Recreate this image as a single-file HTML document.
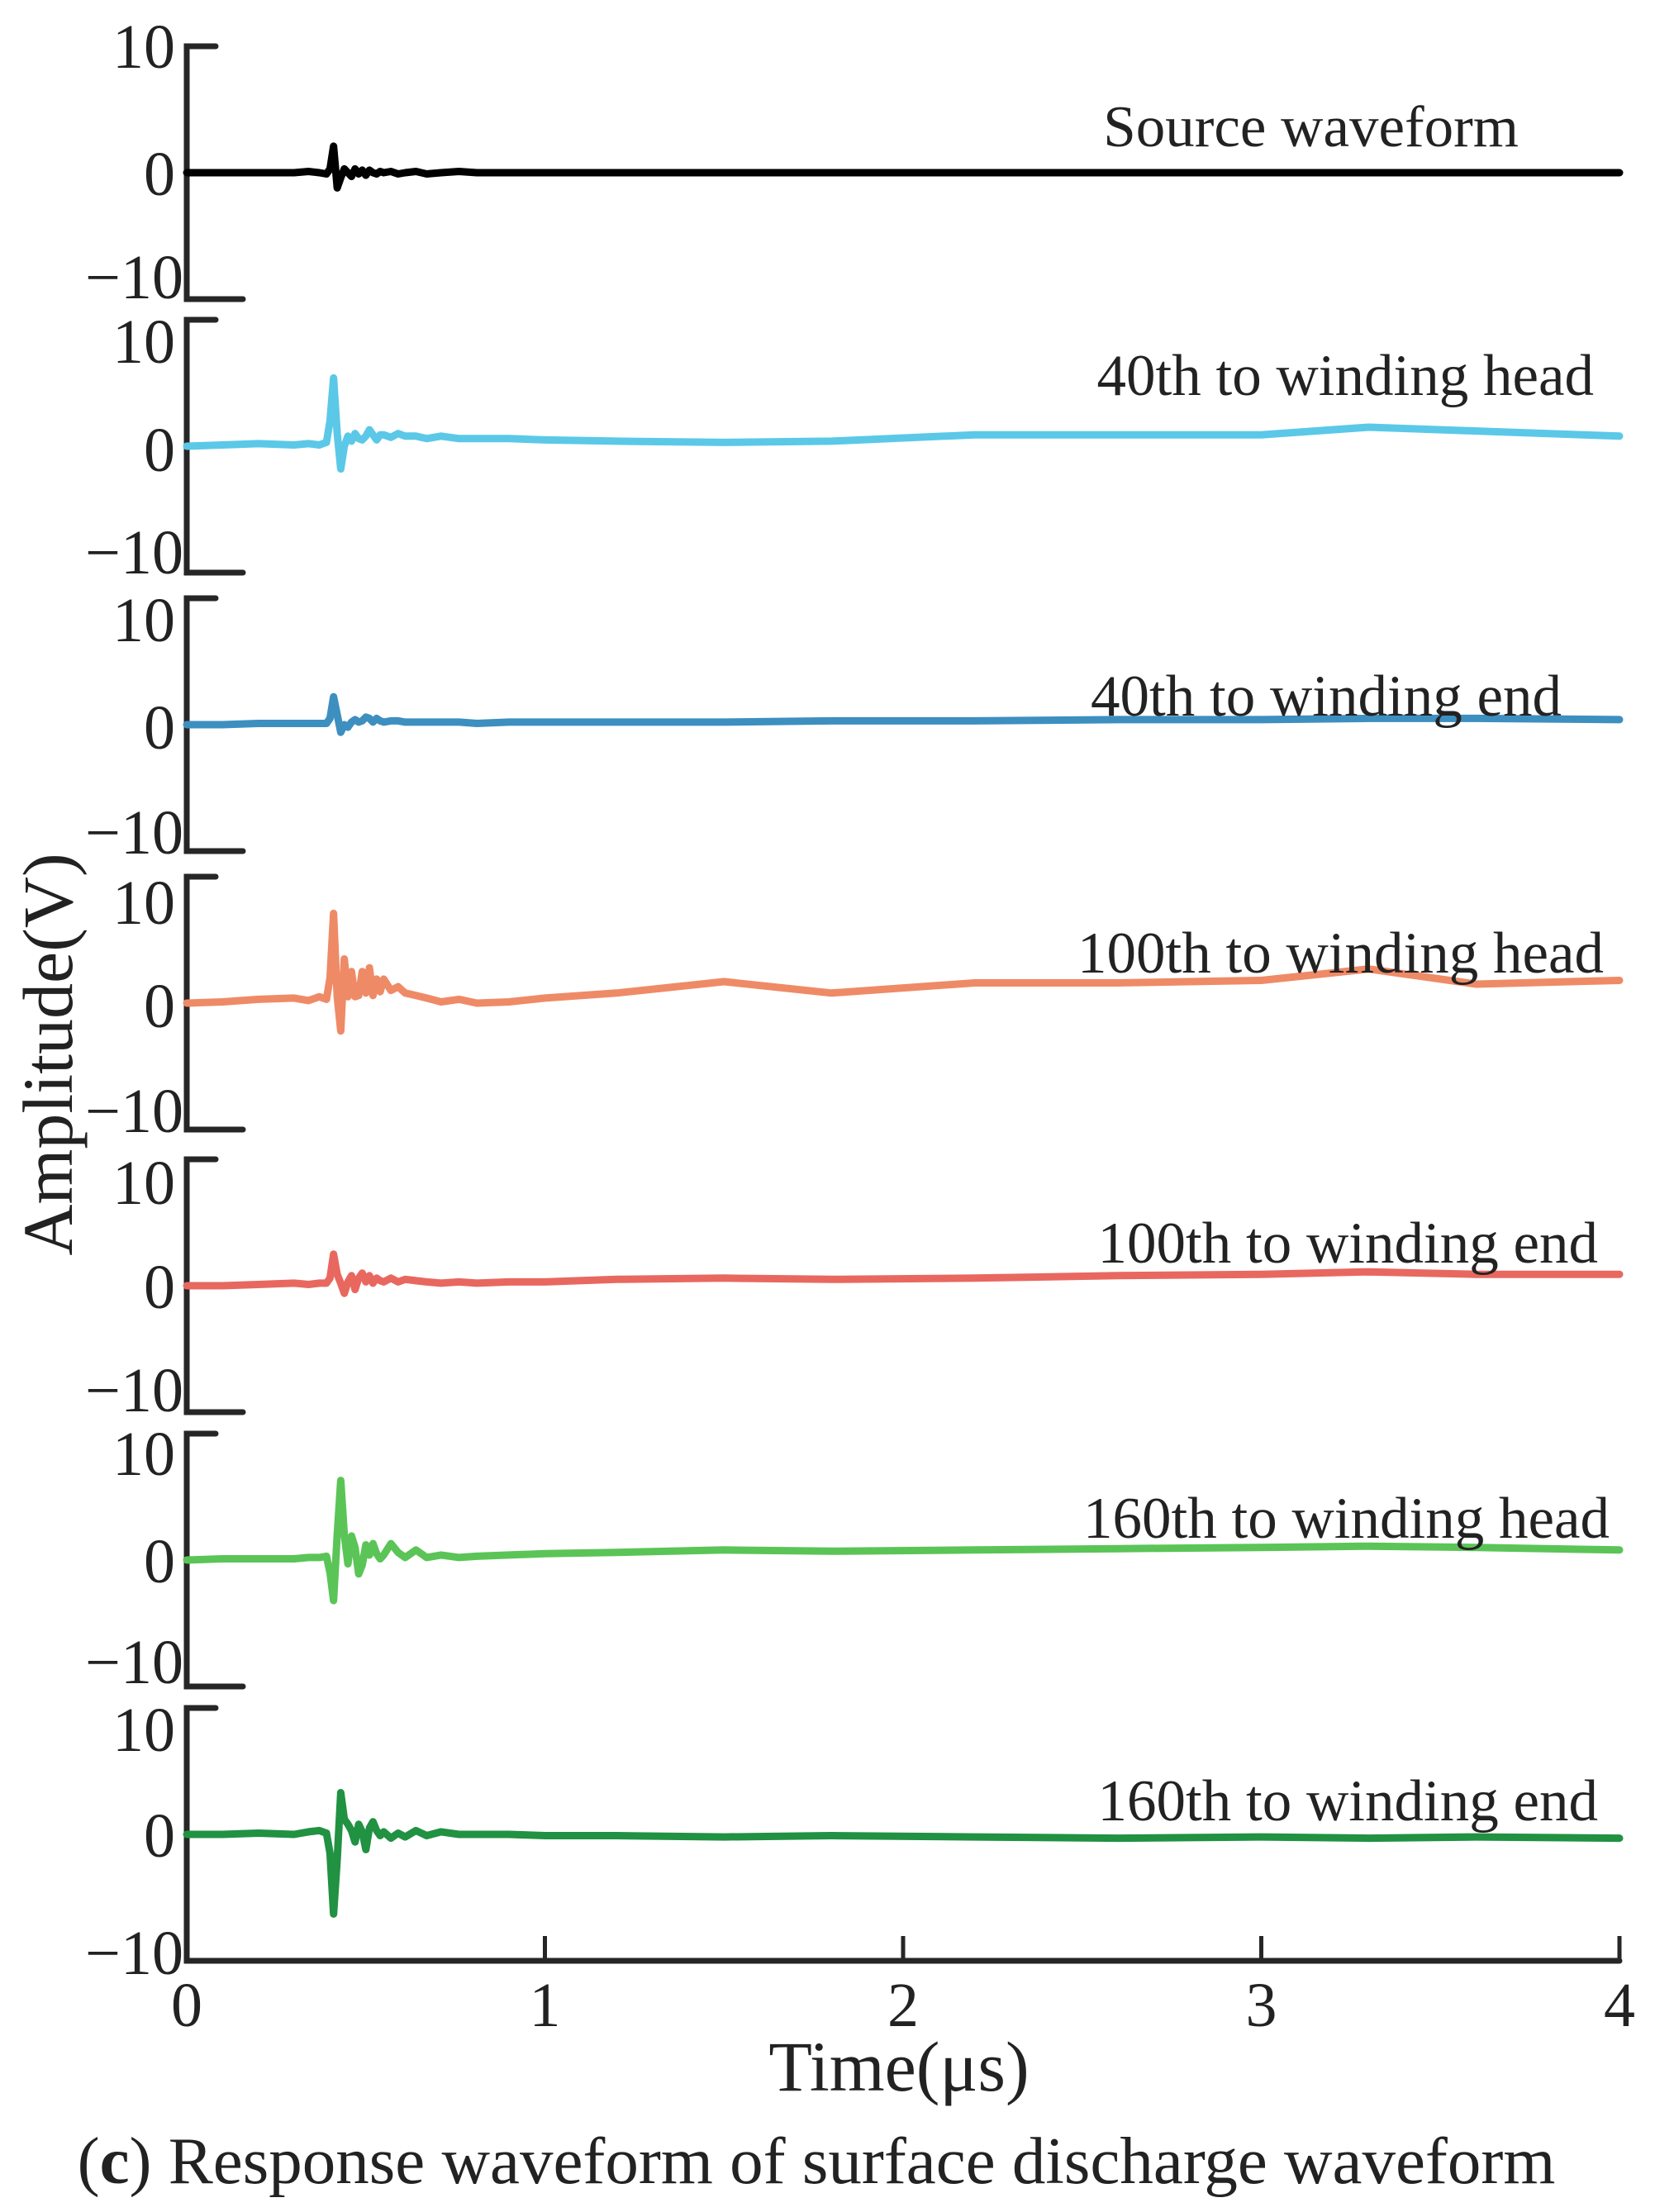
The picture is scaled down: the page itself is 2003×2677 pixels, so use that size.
<!DOCTYPE html>
<html><head><meta charset="utf-8"><style>
html,body{margin:0;padding:0;background:#fff}
svg{display:block}
text{font-family:"Liberation Serif",serif;fill:#222}
</style></head><body>
<svg id="chart" width="2003" height="2677" viewBox="0 0 2003 2677" xmlns="http://www.w3.org/2000/svg">
<g id="axes"></g>
<g id="series"></g>
<g id="labels"></g>
<text transform="translate(87,1276) rotate(-90)" text-anchor="middle" font-size="86">Amplitude(V)</text>
<text x="1088" y="2530" text-anchor="middle" font-size="86">Time(μs)</text>
<text x="988" y="2642" text-anchor="middle" font-size="81">(<tspan font-weight="bold">c</tspan>) Response waveform of surface discharge waveform</text>
</svg>
<script>
const times=[0,0.1,0.2,0.3,0.34,0.37,0.39,0.40,0.41,0.42,0.43,0.44,0.45,0.46,0.47,0.48,0.49,0.50,0.51,0.52,0.53,0.54,0.55,0.57,0.59,0.61,0.64,0.67,0.71,0.76,0.81,0.90,1.0,1.2,1.5,1.8,2.2,2.6,3.0,3.3,3.6,4.0];
const seriesNames=["Source waveform","40th to winding head","40th to winding end","100th to winding head","100th to winding end","160th to winding head","160th to winding end"];
const sourceVals=[0,0,0,0,0.1,0,-0.1,0.3,2.1,-1.2,-0.4,0.3,0,-0.3,0.3,-0.1,0.2,-0.2,0.2,0,-0.1,0.1,0,0.1,-0.1,0,0.1,-0.1,0,0.1,0,0,0,0,0,0,0,0,0,0,0,0];
const head40Vals=[0,0.1,0.2,0.1,0.2,0.1,0.3,2.0,5.4,1.0,-1.8,0,0.8,0.4,1.0,0.6,0.5,0.8,1.3,0.9,0.5,0.9,0.9,0.7,1.0,0.8,0.8,0.6,0.8,0.6,0.6,0.6,0.5,0.4,0.3,0.4,0.9,0.9,0.9,1.5,1.2,0.8];
const end40Vals=[0,0,0.1,0.1,0.1,0.1,0.1,0.5,2.2,0.8,-0.6,0,-0.2,0.2,0.4,0.2,0.3,0.6,0.5,0.2,0.5,0.3,0.2,0.3,0.3,0.2,0.2,0.2,0.2,0.2,0.1,0.2,0.2,0.2,0.2,0.3,0.3,0.4,0.4,0.5,0.5,0.4];
const head100Vals=[0,0.1,0.3,0.4,0.2,0.5,0.3,2,7.1,0.5,-2.2,3.5,0.5,2.5,0.5,0.6,2.5,0.8,2.8,0.6,1.9,0.9,1.9,1.0,1.3,0.8,0.6,0.4,0.1,0.3,0,0.1,0.4,0.8,1.7,0.8,1.6,1.6,1.8,2.7,1.5,1.8];
const end100Vals=[0,0,0.1,0.2,0.1,0.2,0.2,0.6,2.5,0.9,0.2,-0.6,0.3,0.8,-0.3,0.6,1.0,0.3,0.8,0.2,0.6,0.4,0.3,0.6,0.3,0.5,0.4,0.3,0.2,0.3,0.2,0.3,0.3,0.5,0.6,0.5,0.6,0.8,0.9,1.1,0.9,0.9];
const head160Vals=[0,0.1,0.1,0.1,0.2,0.2,0.3,-1.0,-3.2,2,6.3,2,-0.3,1.9,1.0,-1.1,-0.4,1.2,0.4,1.3,0.5,0.1,0.4,1.3,0.6,0.2,0.8,0.2,0.4,0.2,0.3,0.4,0.5,0.6,0.8,0.7,0.8,0.9,1.0,1.1,1.0,0.8];
const end160Vals=[0,0,0.1,0,0.2,0.3,0.1,-1.5,-6.3,-2,3.3,1.2,0.8,0.3,-0.6,0.8,0.2,-1.2,0.5,1.0,0.3,-0.1,0.2,-0.3,0.1,-0.2,0.3,-0.1,0.2,0,0,0,-0.1,-0.1,-0.2,-0.1,-0.2,-0.3,-0.2,-0.3,-0.2,-0.3];
const xTicks=[0,1,2,3,4];
const yTickLabels=["10","0","\u221210"];

const allVals=[sourceVals,head40Vals,end40Vals,head100Vals,end100Vals,head160Vals,end160Vals];
const colors=["#000000","#5bc8e8","#3d8fc0","#ef8a67","#e86860","#5bc457","#219142"];
const zeros=[209,540,877,1214,1556,1888,2220];
const tenBase=[82,439,776,1118,1457,1785,2119];
const zeroBase=[236,570,906,1243,1583,1915,2247];
const negBase=[361,694,1033,1370,1708,2037,2389];
const labelEnd=[1838,1929,1890,1941,1934,1948,1934];
const labelBase=[177,478,866,1177,1528,1861,2203];
const X0=226,X1=1960,HALF=153;
const NS="http://www.w3.org/2000/svg";
function xs(t){return X0+(t/4)*(X1-X0);}
function ys(i,v){return zeros[i]-v/10*HALF;}
const axes=document.getElementById('axes'),ser=document.getElementById('series'),lab=document.getElementById('labels');
function mk(tag,attrs,parent){const e=document.createElementNS(NS,tag);for(const k in attrs)e.setAttribute(k,attrs[k]);parent.appendChild(e);return e;}
for(let i=0;i<7;i++){
  const top=zeros[i]-HALF,bot=zeros[i]+HALF;
  const isLast=i===6;
  const ax=mk('path',{d:`M${X0+35} ${top} H${X0} V${bot} H${isLast?X1:X0+68}`,fill:'none',stroke:'#262626','stroke-width':7,'stroke-linecap':'round','stroke-linejoin':'miter'},axes);
  
  
  const bases=[tenBase[i],zeroBase[i],negBase[i]];
  const rights=[212,212,222];
  for(let k=0;k<3;k++){
    const t=mk('text',{x:rights[k],y:bases[k],'text-anchor':'end','font-size':76},lab);
    t.textContent=yTickLabels[k];
    
    
  }
  const pts=times.map((tt,j)=>xs(tt).toFixed(1)+','+ys(i,allVals[i][j]).toFixed(1)).join(' ');
  const pl=mk('polyline',{points:pts,fill:'none',stroke:colors[i],'stroke-width':9,'stroke-linejoin':'round','stroke-linecap':'round'},ser);
  
  
  const st=mk('text',{x:labelEnd[i],y:labelBase[i],'text-anchor':'end','font-size':71,fill:'#000'},lab);
  st.textContent=seriesNames[i];
  
  
}
xTicks.forEach(v=>{
  const x=xs(v);
  const tk=mk('line',{x1:x,y1:2373,x2:x,y2:2343,stroke:'#262626','stroke-width':5},axes);
  
  
  const t=mk('text',{x:x,y:2452,'text-anchor':'middle','font-size':76},lab);
  t.textContent=String(v);
  
  
});
</script>
</body></html>
